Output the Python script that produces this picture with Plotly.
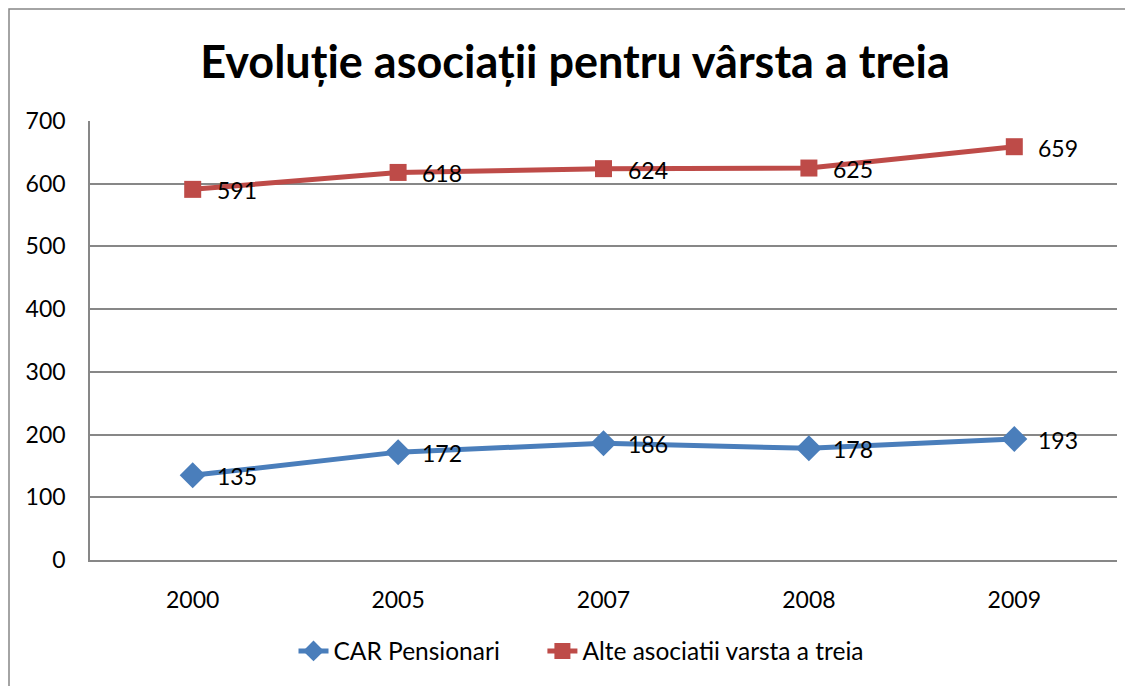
import plotly.graph_objects as go

years = ["2000", "2005", "2007", "2008", "2009"]
car_pensionari = [135, 172, 186, 178, 193]
alte_asociatii = [591, 618, 624, 625, 659]

FONT = "Lato"
GRID = "#878787"

# the page body adds an 8px margin, so the figure is drawn 8px smaller
W, H = 1125, 678
L, R, T, B = 82, 16, 113, 126
pw, ph = W - L - R, H - T - B

fig = go.Figure()

fig.add_trace(go.Scatter(
    x=years, y=car_pensionari,
    mode="lines+markers",
    name="CAR Pensionari\u00a0\u00a0\u00a0\u00a0\u00a0\u00a0",
    line=dict(color="#4a7ebb", width=5),
    marker=dict(symbol="diamond", size=20, color="#4a7ebb"),
))

fig.add_trace(go.Scatter(
    x=years, y=alte_asociatii,
    mode="lines+markers",
    name="Alte asociatii varsta a treia",
    line=dict(color="#be4b48", width=5),
    marker=dict(symbol="square", size=17, color="#be4b48"),
))

# data labels: category axis positions are the indices of the years
labels = []
for series in (car_pensionari, alte_asociatii):
    for i, v in enumerate(series):
        labels.append(dict(
            x=i, y=v, xref="x", yref="y",
            text=str(v), showarrow=False,
            xanchor="left", yanchor="middle",
            xshift=22, yshift=-1,
            font=dict(size=23, family=FONT, color="black"),
        ))

fig.update_layout(
    width=W, height=H,
    margin=dict(l=L, r=R, t=T, b=B),
    paper_bgcolor="white",
    plot_bgcolor="white",
    font=dict(family=FONT, size=23, color="black"),
    title=dict(
        text="<b>Evoluție asociații pentru vârsta a treia</b>",
        x=(567 - L) / pw, xref="paper", xanchor="center",
        y=1 - 54 / H, yref="container", yanchor="middle",
        font=dict(size=45, family=FONT, color="black"),
    ),
    showlegend=True,
    legend=dict(
        orientation="h",
        x=(573 - L) / pw, xanchor="center",
        y=(552 - 643) / ph, yanchor="middle",
        font=dict(size=24.5, family=FONT),
    ),
    annotations=labels,
    xaxis=dict(
        type="category",
        range=[-0.5, 4.5],
        showgrid=False,
        showline=True, linecolor=GRID, linewidth=1.5,
        ticks="", ticklabelstandoff=19,
        tickfont=dict(size=23),
        fixedrange=True,
    ),
    yaxis=dict(
        range=[0, 700],
        dtick=100,
        showgrid=True, gridcolor=GRID, gridwidth=1.5,
        showline=True, linecolor=GRID, linewidth=1.5,
        zeroline=False,
        ticks="", ticklabelstandoff=18,
        tickfont=dict(size=23),
        fixedrange=True,
    ),
    shapes=[
        dict(
            type="rect", xref="paper", yref="paper",
            x0=(1 - L) / pw, x1=1.2,
            y0=-0.5, y1=1 + (T - 1) / ph,
            line=dict(color="#868686", width=1.5),
            fillcolor="rgba(0,0,0,0)",
            layer="below",
        )
    ],
)

fig.write_html("out.html")
